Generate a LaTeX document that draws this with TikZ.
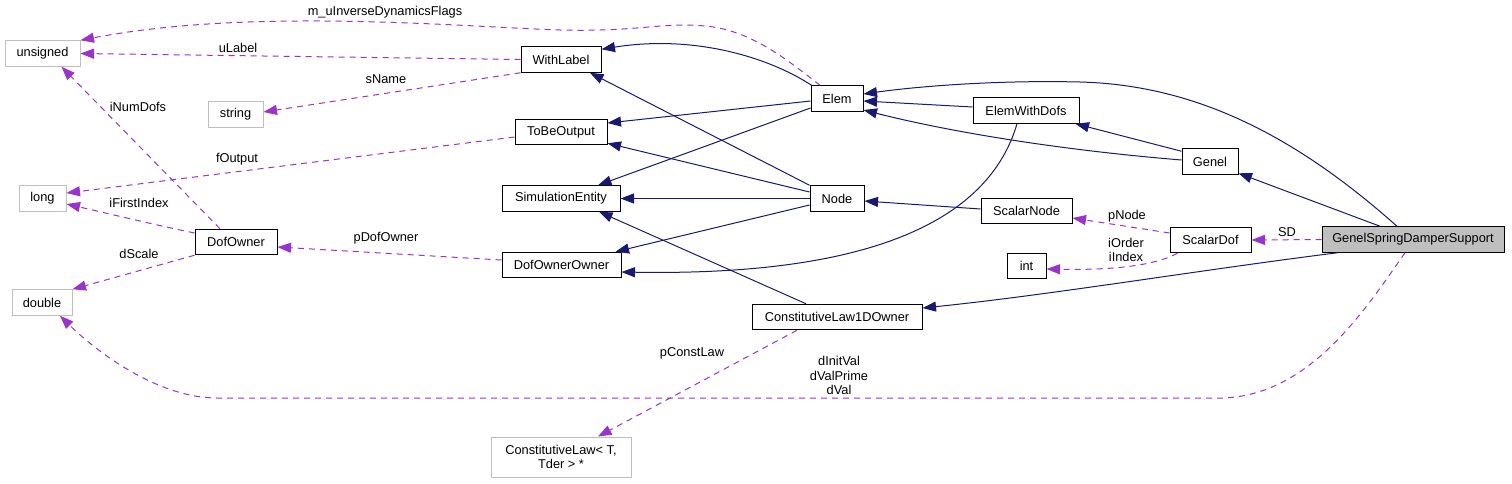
\documentclass[tikz,border=0pt]{standalone}
\usepackage{fontspec}
\setmainfont{Liberation Sans}
\usetikzlibrary{arrows.meta,calc}
\definecolor{navy}{HTML}{191970}
\definecolor{orch}{HTML}{9A32CD}
\definecolor{extgray}{HTML}{BFBFBF}
\definecolor{mainfill}{HTML}{BFBFBF}
\begin{document}
\begin{tikzpicture}[x=1pt,y=-1pt,
  every node/.style={font=\fontsize{12.8}{14.5}\selectfont, inner sep=0pt},
  cls/.style={draw=black, line width=1pt, fill=white, minimum height=25.5pt},
  ext/.style={draw=extgray, line width=1pt, fill=white, minimum height=25.5pt},
  inh/.style={draw=navy, line width=1pt, -{Triangle[length=13.5pt,width=10pt]}},
  use/.style={draw=orch, line width=1pt, dash pattern=on 6pt off 5pt, -{Triangle[length=13.5pt,width=10pt]}},
  lbl/.style={text=black, align=center}
]
\useasboundingbox[fill=white] (0,0) rectangle (1512,483);

% nodes
\node[ext, minimum width=75pt] (unsigned) at (42.5,53.5) {unsigned};
\node[ext, minimum width=55pt] (string) at (235.5,114.5) {string};
\node[ext, minimum width=47pt] (long) at (42.5,198.5) {long};
\node[ext, minimum width=60pt] (double) at (42,302.5) {double};
\node[cls, minimum width=82pt] (DofOwner) at (236,242) {DofOwner};
\node[cls, minimum width=80pt] (WithLabel) at (561,59.5) {WithLabel};
\node[cls, minimum width=92pt] (ToBeOutput) at (561,132) {ToBeOutput};
\node[cls, minimum width=118pt] (SimEnt) at (561,198.5) {SimulationEntity};
\node[cls, minimum width=119pt] (DOO) at (561.5,265) {DofOwnerOwner};
\node[cls, minimum width=52pt] (Elem) at (837,98.5) {Elem};
\node[cls, minimum width=54pt] (Node) at (837,198.5) {Node};
\node[cls, minimum width=106pt] (EWD) at (1026,110.5) {ElemWithDofs};
\node[cls, minimum width=56pt] (Genel) at (1210,161.5) {Genel};
\node[cls, minimum width=91pt] (ScalarNode) at (1026.5,211) {ScalarNode};
\node[cls, minimum width=81pt] (ScalarDof) at (1210.5,240) {ScalarDof};
\node[cls, minimum width=39pt] (int) at (1026.5,266) {int};
\node[cls, fill=mainfill, minimum width=182pt] (GSDS) at (1413,239.5) {GenelSpringDamperSupport};
\node[cls, minimum width=170pt] (CL1D) at (837,317) {ConstitutiveLaw1DOwner};
\node[ext, minimum width=140pt, minimum height=40pt, align=center] (CLT) at (561,457) {ConstitutiveLaw< T,\\Tder > *};

% inheritance edges
\draw[inh] ($(Elem.north west)+(1,0)$) .. controls (765,55) and (690,35) .. ($(WithLabel.north east)+(0,3)$);
\draw[inh] ($(Elem.west)+(0,2.5)$) -- ($(ToBeOutput.east)+(0,-9)$);
\draw[inh] ($(Elem.west)+(0,9.5)$) -- ($(SimEnt.north)+(37,0)$);
\draw[inh] (Node.north west) -- ($(WithLabel.south)+(29,0)$);
\draw[inh] ($(Node.west)+(0,-6.5)$) -- ($(ToBeOutput.south east)+(0,-2)$);
\draw[inh] (Node.west) -- (SimEnt.east);
\draw[inh] ($(Node.west)+(0,6.5)$) -- ($(DOO.north east)+(-6,0)$);
\draw[inh] ($(EWD.west)+(0,-3.5)$) -- ($(Elem.east)+(0,2.5)$);
\draw[inh] ($(EWD.south)+(-9,0)$) .. controls (980,250) and (800,275) .. ($(DOO.east)+(0,7)$);
\draw[inh] ($(Genel.west)+(0,-1.5)$) .. controls (1060,150) and (950,132) .. ($(Elem.east)+(0,11.5)$);
\draw[inh] ($(Genel.north west)+(0,3)$) -- ($(EWD.south east)+(-4,0)$);
\draw[inh] ($(GSDS.north)+(-16,0)$) .. controls (1300,140) and (1200,85) .. (1080,82) .. controls (1000,80) and (920,86) .. ($(Elem.east)+(0,-4.5)$);
\draw[inh] ($(GSDS.north)+(-33,0)$) -- ($(Genel.south east)+(0,-1.5)$);
\draw[inh] ($(ScalarNode.west)+(0,-2)$) -- ($(Node.east)+(0,2.5)$);
\draw[inh] ($(CL1D.north)+(-31,0)$) -- ($(SimEnt.south)+(38,0)$);
\draw[inh] ($(GSDS.south west)+(16,0)$) .. controls (1200,270) and (1050,295) .. ($(CL1D.east)+(0,-9)$);

% usage edges
\draw[use] ($(Elem.north)+(-17,0)$) .. controls (785,58) and (750,30) .. (705,26) .. controls (660,22) and (640,32) .. (560,30) .. controls (450,26) and (250,8) .. (unsigned.north east);
\node[lbl] (l1) at (385,12) {m\_uInverseDynamicsFlags};
\draw[use] (WithLabel.west) -- (unsigned.east);
\node[lbl] (l2) at (238,48) {uLabel};
\draw[use] (WithLabel.south west) -- ($(string.east)+(0,-2.5)$);
\node[lbl] (l3) at (386,79) {sName};
\draw[use] ($(ToBeOutput.west)+(0,5)$) -- ($(long.east)+(0,-5.5)$);
\node[lbl] (l4) at (237,159) {fOutput};
\draw[use] ($(DofOwner.north)+(-16,0)$) -- ($(unsigned.south)+(19,0)$);
\node[lbl] (l5) at (138,107) {iNumDofs};
\draw[use] ($(DofOwner.west)+(0,-9)$) .. controls (160,226) and (110,214) .. ($(long.east)+(0,5.5)$);
\node[lbl] (l6) at (139,203) {iFirstIndex};
\draw[use] (DofOwner.south west) -- (double.north east);
\node[lbl] (l7) at (139,254) {dScale};
\draw[use] ($(DOO.west)+(0,-5)$) -- ($(DofOwner.east)+(0,5)$);
\node[lbl] (l8) at (386,238) {pDofOwner};
\draw[use] ($(ScalarDof.west)+(0,-7)$) -- ($(ScalarNode.east)+(0,7)$);
\node[lbl] (l9) at (1127,216) {pNode};
\draw[use] ($(ScalarDof.south west)+(8,0)$) .. controls (1150,268) and (1100,270) .. ($(int.east)+(0,3)$);
\node[lbl] (l10) at (1126,250) {iOrder\\iIndex};
\draw[use] (GSDS.west) -- (ScalarDof.east);
\node[lbl] (l11) at (1287,232) {SD};
\draw[use] ($(CL1D.south)+(-40,0)$) -- ($(CLT.north)+(37,0)$);
\node[lbl] (l12) at (692,353) {pConstLaw};
\draw[use] ($(GSDS.south)+(-8,0)$) .. controls (1365,310) and (1310,395) .. (1223,398) -- (217,398) .. controls (160,398) and (100,355) .. ($(double.south)+(18,0)$);
\node[lbl] (l13) at (839,375.5) {dInitVal\\dValPrime\\dVal};
\end{tikzpicture}
\end{document}
